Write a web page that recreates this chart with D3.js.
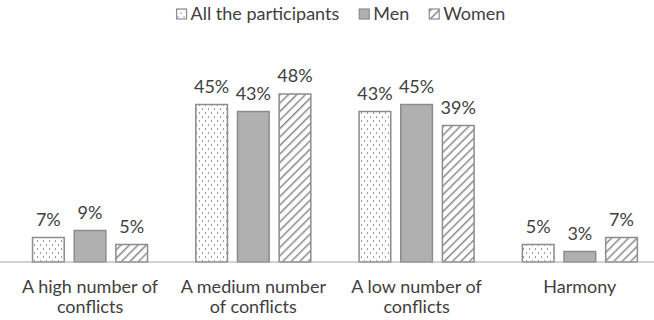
<!DOCTYPE html>
<html><head><meta charset="utf-8">
<script src="https://cdn.jsdelivr.net/npm/d3@7"></script>
<style>body{margin:0;background:#fff}svg{display:block}text{font-family:Lato,"Open Sans",sans-serif;fill:#404040}</style>
</head><body><svg id="c" width="654" height="320"></svg>
<script>
const categories = [["A high number of","conflicts"],["A medium number","of conflicts"],["A low number of","conflicts"],["Harmony"]];
const seriesNames = ["All the participants","Men","Women"];
const allValues = [7,45,43,5];
const menValues = [9,43,45,3];
const womenValues = [5,48,39,7];
const seriesValues = [allValues, menValues, womenValues];

const svg = d3.select("#c");
const defs = svg.append("defs");
const p1 = defs.append("pattern").attr("id","pAll").attr("patternUnits","userSpaceOnUse").attr("width",6).attr("height",8);
p1.append("rect").attr("width",6).attr("height",8).attr("fill","#fff");
p1.append("line").attr("x1",1.5).attr("x2",1.5).attr("y1",0).attr("y2",2).attr("stroke","#9a9a9a").attr("stroke-width",1);
p1.append("line").attr("x1",4.5).attr("x2",4.5).attr("y1",4).attr("y2",6).attr("stroke","#9a9a9a").attr("stroke-width",1);
const p2 = defs.append("pattern").attr("id","pMen").attr("patternUnits","userSpaceOnUse").attr("width",4).attr("height",4);
p2.append("rect").attr("width",4).attr("height",4).attr("fill","#b0b0b0");
const p3 = defs.append("pattern").attr("id","pWomen").attr("patternUnits","userSpaceOnUse").attr("width",6).attr("height",6).attr("patternTransform","rotate(45)");
p3.append("rect").attr("width",6).attr("height",6).attr("fill","#fff");
p3.append("line").attr("x1",0).attr("x2",0).attr("y1",0).attr("y2",6).attr("stroke","#8a8a8a").attr("stroke-width",3);
const fills = ["url(#pAll)","url(#pMen)","url(#pWomen)"];

const baseY = 262;
const x = d3.scaleBand().domain(d3.range(categories.length)).range([8.4, 661.5]).paddingInner(0).paddingOuter(0);
const xs = d3.scaleBand().domain(d3.range(3)).range([0, 115]).paddingInner(0.24);
const y = d3.scaleLinear().domain([0, 48]).range([baseY, baseY - 168]);

const g = svg.append("g");
categories.forEach((c, i) => {
  const cx = x(i) + x.bandwidth()/2;
  const gx = cx - 57.5;
  seriesValues.forEach((vals, s) => {
    const bx = gx + xs(s);
    g.append("rect").attr("x", bx).attr("y", y(vals[i])).attr("width", xs.bandwidth()).attr("height", baseY - y(vals[i]))
      .attr("fill", fills[s]).attr("stroke", "#8c8c8c").attr("stroke-width", 1.5);
    g.append("text").attr("x", bx + xs.bandwidth()/2).attr("y", y(vals[i]) - 12).attr("text-anchor","middle")
      .attr("font-size", 18).text(vals[i] + "%");
  });
  c.forEach((line, k) => {
    g.append("text").attr("x", cx).attr("y", 293 + k*20).attr("text-anchor","middle").attr("font-size",18).text(line);
  });
});
svg.append("line").attr("x1",0).attr("x2",654).attr("y1",baseY).attr("y2",baseY).attr("stroke","#a6a6a6").attr("stroke-width",1.2);

// legend
const leg = svg.append("g");
let lx = 0;
seriesNames.forEach((n, s) => {
  leg.append("rect").attr("x", lx).attr("y", 9).attr("width", 10).attr("height", 10).attr("fill", fills[s]).attr("stroke","#8c8c8c").attr("stroke-width",1.2);
  const t = leg.append("text").attr("x", lx + 14).attr("y", 20).attr("font-size",18).text(n);
  lx += 14 + t.node().getComputedTextLength() + (s < seriesNames.length - 1 ? 20 : 0);
});
leg.attr("transform", `translate(${341 - lx/2},0)`);
</script></body></html>
